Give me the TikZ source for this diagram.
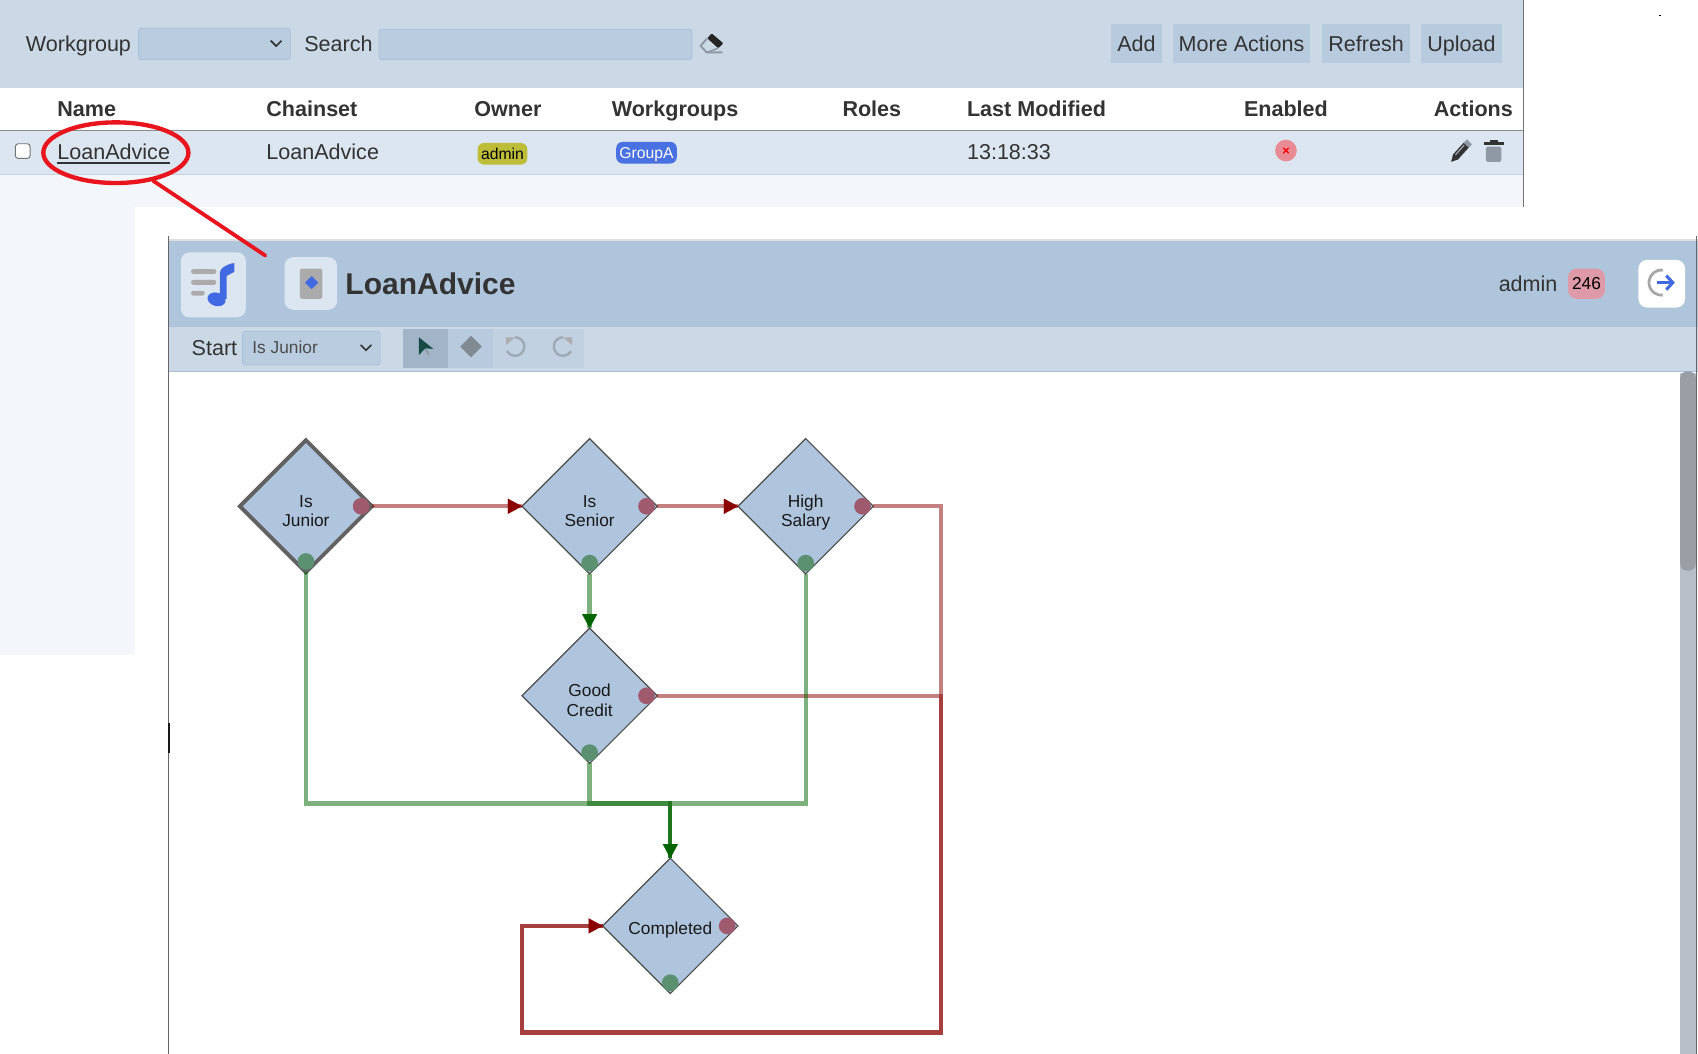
\documentclass[tikz,border=0pt]{standalone}
\usepackage{fontspec}
\setmainfont{Liberation Sans}
\usetikzlibrary{arrows.meta,positioning}
\usetikzlibrary{shapes.geometric}
\definecolor{barBlue}{HTML}{CBD9E6}
\definecolor{headBlue}{HTML}{AFC5DB}
\definecolor{rowBlue}{HTML}{DCE6F0}
\definecolor{paleBlue}{HTML}{F3F7FB}
\definecolor{fieldBlue}{HTML}{BACCE0}
\definecolor{fieldEdge}{HTML}{A9BFD9}
\definecolor{btnBlue}{HTML}{B8CBDE}
\definecolor{nodeBlue}{HTML}{AFC4DD}
\definecolor{royal}{HTML}{4169E1}
\definecolor{inkText}{HTML}{333333}
\definecolor{lineRed}{HTML}{8B0000}
\definecolor{lineGreen}{HTML}{006400}
\definecolor{ringRed}{HTML}{E8141E}
\definecolor{olive}{HTML}{BDBD3A}
\definecolor{softRed}{HTML}{E98B94}
\definecolor{softPink}{HTML}{DE9AA8}
\definecolor{iconGrey}{HTML}{8F99A3}
\definecolor{portRed}{HTML}{A05A6E}
\definecolor{portGreen}{HTML}{5B9070}
\definecolor{cursorInk}{HTML}{164B45}
\definecolor{trackGrey}{HTML}{B8BFC9}
\definecolor{thumbGrey}{HTML}{9A9FA6}
\tikzset{
    x=1pt, y=-1pt,
    txt/.style={inner sep=0pt, outer sep=0pt, text=inkText, font=\fontsize{19.9}{24}\selectfont},
    txtl/.style={txt, anchor=base west},
    headl/.style={txtl, font=\fontsize{19.9}{24}\selectfont\bfseries},
    actionbtn/.style={txt, fill=btnBlue, minimum height=36pt, text height=18pt, text depth=2pt}, % buttons top right
    field/.style={draw=fieldEdge, fill=fieldBlue, rounded corners=2.5pt, line width=.7pt, inner sep=0pt},
    badge/.style={rounded corners=6pt, inner sep=0pt, minimum height=20pt, text height=10pt, text depth=0pt,
        font=\fontsize{14.5}{16}\selectfont},
    tile/.style={fill=rowBlue, rounded corners=8pt, inner sep=0pt},
    chevron/.style={draw=inkText, line width=1.5pt},
    step node/.style={diamond, aspect=1, minimum size=125pt, inner sep=0pt, outer sep=0pt,
        draw=black!70, line width=1.1pt, fill=nodeBlue},
    step text/.style={align=center, inner sep=0pt, text=black!90, yshift=-6.2pt,
        font=\fontsize{16}{18}\selectfont},
    redport/.style={circle, fill=portRed, minimum size=15.4pt, inner sep=0pt},
    greenport/.style={circle, fill=portGreen, minimum size=15.4pt, inner sep=0pt},
    redline/.style={draw=lineRed, draw opacity=.5, line width=4pt},
    greenline/.style={draw=lineGreen, draw opacity=.5, line width=4pt},
    redtip/.style={draw=lineRed, line width=.1pt, -{Triangle[length=13pt,width=14pt,fill=lineRed]}},
    greentip/.style={draw=lineGreen, line width=.1pt, -{Triangle[length=13pt,width=14pt,fill=lineGreen]}},
}
\begin{document}
\begin{tikzpicture}
  \useasboundingbox (0,0) rectangle (1568,973.3);

  % list page behind
  \fill[barBlue] (0,0) rectangle (1407,81);
  \fill[paleBlue] (0,161) rectangle (1407,191);
  \fill[paleBlue] (0,191) rectangle (125,605);
  \fill[rowBlue] (0,121) rectangle (1407,161);
  \draw[black!45, line width=1.2pt] (0,120.5) -- (1407,120.5);
  \draw[fieldEdge!70, line width=1pt] (0,161) -- (1407,161);
  \draw[black!55, line width=1pt] (1407,0) -- (1407,191);
  \fill[black] (1532,14) rectangle (1534,15);

  \node[txtl] (lblWorkgroup) at (24,48) {Workgroup};
  \node[field, minimum width=140pt, minimum height=29pt] (selWorkgroup) at (198,40.5) {};
  \draw[chevron] (255,40) ++(-5,-2.5) -- ++(5,5) -- ++(5,-5);
  \node[txtl] (lblSearch) at (281,48) {Search};
  \node[field, minimum width=289pt, minimum height=28pt] (inSearch) at (494.5,41) {};
  % eraser
  \draw[iconGrey, line width=1.8pt] (653,35.4) -- (647,42.4) -- (652.5,48.4) -- (667,48.4);
  \draw[iconGrey, line width=1.4pt] (652.5,48.4) -- (663,44.6);
  \fill[black!85, rounded corners=1pt] (657.1,30.8) -- (668,40) -- (663.3,44.6) -- (653.1,35.4) -- cycle;

  \node[actionbtn, minimum width=47pt] (btnAdd) at (1049.5,40) {Add};
  \node[actionbtn, minimum width=127pt] (btnMore) at (1146.5,40) {More Actions};
  \node[actionbtn, minimum width=81pt] (btnRefresh) at (1261.5,40) {Refresh};
  \node[actionbtn, minimum width=75pt] (btnUpload) at (1349.5,40) {Upload};

  \node[headl] (hName) at (53,108) {Name};
  \node[headl] (hChainset) at (246,108) {Chainset};
  \node[headl] (hOwner) at (438,108) {Owner};
  \node[headl] (hGroups) at (565,108) {Workgroups};
  \node[headl] (hRoles) at (778,108) {Roles};
  \node[headl] (hModified) at (893,108) {Last Modified};
  \node[headl, anchor=base] (hEnabled) at (1187.5,108) {Enabled};
  \node[headl, anchor=base east] (hActions) at (1397,108) {Actions};

  \node[draw=black!55, fill=white, rounded corners=2.5pt, line width=.9pt, minimum size=13.5pt, inner sep=0pt] (chkRow) at (21,139.5) {};
  \node[txtl] (linkName) at (53,147) {LoanAdvice};
  \draw[inkText, line width=1.5pt] ([yshift=-3.5pt]linkName.base west) -- ([yshift=-3.5pt]linkName.base east);
  \node[txtl] (cellChainset) at (246,147) {LoanAdvice};
  \node[badge, fill=olive, minimum width=46pt, text=black] (badgeAdmin) at (464,142) {admin};
  \node[badge, fill=royal!95!white, minimum width=56pt, text=white] (badgeGroup) at (597,141) {GroupA};
  \node[txtl] (cellTime) at (893,147) {13:18:33};
  \node[circle, fill=softRed, minimum size=20pt, inner sep=0pt] (dotEnabled) at (1187.5,139) {};
  \draw[red, line width=1.2pt] (1185,136.5) -- (1190,141.5) (1190,136.5) -- (1185,141.5);
  % pencil and bin
  \draw[inkText, line width=6.5pt] (1344,145) -- (1354,134);
  \draw[iconGrey, line width=6.5pt] (1354,134) -- (1357,131);
  \fill[inkText] (1340,149.5) -- (1342,142) -- (1347,147) -- cycle;
  \draw[iconGrey!60!rowBlue, line width=1pt] (1344,143) -- (1352,134);
  \fill[inkText] (1370,131) rectangle (1388.5,134);
  \fill[inkText] (1376,129) rectangle (1383,131);
  \fill[iconGrey, rounded corners=1.5pt] (1372,135.5) rectangle (1386.5,149.5);

  % designer panel in front
  \fill[white] (125,191) rectangle (1568,973.3);
  \fill[headBlue] (156,222) rectangle (1568,302);
  \fill[barBlue] (156,302) rectangle (1568,343);
  \draw[black!13, line width=1.4pt] (156,221.5) -- (1568,221.5);
  \draw[fieldEdge, line width=1pt] (156,343) -- (1568,343);
  \draw[black!60, line width=1pt] (156,218) -- (156,973.3);
  \draw[black!90, line width=1.6pt] (156,668) -- (156,695);
  \fill[trackGrey] (1551.5,344) rectangle (1566,973.3);
  \fill[thumbGrey, rounded corners=6.5pt] (1551.5,343) rectangle (1566,527);
  \draw[black!60, line width=1pt] (1566.5,218) -- (1566.5,973.3);

  % logo
  \node[tile, minimum size=60pt] (tileLogo) at (197,263) {};
  \fill[black!33, rounded corners=2pt] (176.5,248.5) rectangle (199.7,253);
  \fill[black!33, rounded corners=2pt] (176.5,258.5) rectangle (199.7,263);
  \fill[black!33, rounded corners=2pt] (176.5,268.5) rectangle (189,273);
  \fill[royal, rotate around={-15:(200,276.4)}] (200,276.4) ellipse (8.5 and 6.2);
  \fill[royal] (203.1,276) -- (203.1,252) .. controls (203.1,248) and (207,245.5) .. (213.9,243.3) -- (216.4,243) -- (216.4,251) -- (209.3,254.8) -- (209.3,276) -- cycle;

  \node[tile, minimum size=48.5pt] (tileChain) at (287,261.8) {};
  \node[fill=black!33, rounded corners=2pt, minimum width=20.6pt, minimum height=28pt, inner sep=0pt] (iconChain) at (287.3,262) {};
  \fill[royal] (287.8,255) -- (294,261) -- (287.8,267) -- (281.6,261) -- cycle;
  \node[txtl, font=\fontsize{27.7}{32}\selectfont\bfseries] (txtTitle) at (319,271.5) {LoanAdvice};

  \node[txtl] (txtUser) at (1384,269) {admin};
  \node[fill=softPink, rounded corners=8pt, minimum width=34pt, minimum height=28pt, inner sep=0pt, text=black, font=\fontsize{16}{18}\selectfont] (badgeCount) at (1465,262) {246};
  \node[fill=white, rounded corners=8pt, minimum width=43pt, minimum height=44pt, inner sep=0pt] (btnExit) at (1534.5,262) {};
  \draw[black!35, line width=2.5pt] (1535.4,249.3) arc (-85:-275:11.7);
  \draw[royal, line width=2.6pt, -{Straight Barb[length=6pt,width=13pt,line width=2.8pt]}] (1529.7,261) -- (1546.6,261);

  \node[txtl] (lblStart) at (177,328) {Start};
  \node[field, minimum width=127pt, minimum height=31pt] (selStart) at (287.5,321.5) {};
  \node[txtl, font=\fontsize{16}{18}\selectfont, text=black!70] (txtStart) at (233,326.5) {Is Junior};
  \draw[chevron] (338,321) ++(-5,-2.5) -- ++(5,5) -- ++(5,-5);

  % tool buttons
  \fill[headBlue!90!black!95!white] (372,304) rectangle (413.6,340);
  \fill[btnBlue] (413.6,304) rectangle (455,340);
  \fill[fieldBlue!60!barBlue] (455,304) rectangle (539,340);
  \draw[iconGrey, line width=1.8pt] (392.7,321.6) -- (395.8,327.5);
  \fill[cursorInk] (386.9,311.5) -- (400.1,322.2) -- (392.7,321.6) -- (386.9,327.8) -- cycle;
  \fill[iconGrey!90!black] (435,310) -- (445,320) -- (435,330) -- (425,320) -- cycle;
  \draw[black!22!barBlue, line width=2.2pt] (475.6,311.4) arc (-90:150:8.6);
  \fill[black!32] (467.3,311.5) -- (475.6,311.5) -- (467.3,318.8) -- cycle;
  \draw[black!22!barBlue, line width=2.2pt] (520,311.4) arc (-90:-330:8.6);
  \fill[black!32] (528.3,311.5) -- (520,311.5) -- (528.3,318.8) -- cycle;

  % flow nodes
  \node[step node, draw=black!62, line width=3.5pt, minimum size=122pt] (IsJunior) at (282.5,467.5) {};
  \node[step node] (IsSenior) at (544.5,467.5) {};
  \node[step node] (HighSalary) at (744,467.5) {};
  \node[step node] (GoodCredit) at (544.5,642.5) {};
  \node[step node] (Completed) at (619,855) {};

  \node[step text] (tJunior) at (IsJunior) {\strut Is\\\strut Junior};
  \node[step text] (tSenior) at (IsSenior) {\strut Is\\\strut Senior};
  \node[step text] (tSalary) at (HighSalary) {\strut High\\\strut Salary};
  \node[step text] (tCredit) at (GoodCredit) {\strut Good\\\strut Credit};
  \node[step text, yshift=2.5pt] (tDone) at (Completed) {Completed};

  \coordinate (mergeGreen) at (619,742);
  \coordinate (loopSE) at (869,953.5);
  \coordinate (loopSW) at (482,953.5);

  \path[redline]
    (IsJunior.east) edge (IsSenior.west)
    (IsSenior.east) edge (HighSalary.west);
  \draw[redline] (HighSalary.east) -| (loopSE) -- (loopSW) |- (Completed.west);
  \draw[redline] (GoodCredit.east) -| (loopSE) -- (loopSW) |- (Completed.west);
  \draw[greenline] (IsSenior.south) -- (GoodCredit.north);
  \draw[greenline] (IsJunior.south) |- (mergeGreen) -- (Completed.north);
  \draw[greenline] (GoodCredit.south) |- (mergeGreen) -- (Completed.north);
  \draw[greenline] (HighSalary.south) |- (mergeGreen) -- (Completed.north);

  \draw[redtip] ([xshift=-13pt]IsSenior.west) -- (IsSenior.west);
  \draw[redtip] ([xshift=-13pt]HighSalary.west) -- (HighSalary.west);
  \draw[redtip] ([xshift=-13pt]Completed.west) -- (Completed.west);
  \draw[greentip] ([yshift=13pt]GoodCredit.north) -- (GoodCredit.north);
  \draw[greentip] ([yshift=13pt]Completed.north) -- (Completed.north);

  \foreach \n in {IsJunior,IsSenior,HighSalary,GoodCredit,Completed}{
    \node[redport] (\n Red) at ([xshift=-10pt]\n.east) {};
    \node[greenport] (\n Green) at ([yshift=10pt]\n.south) {};
  }

  % callout
  \node[ellipse, draw=ringRed, line width=4pt, minimum width=134pt, minimum height=56pt, inner sep=0pt] (ringName) at (107,141) {};
  \coordinate (calloutEnd) at (245,236);
  \draw[ringRed, line width=3.5pt, line cap=round] (ringName.-37) -- (calloutEnd);
\end{tikzpicture}
\end{document}
